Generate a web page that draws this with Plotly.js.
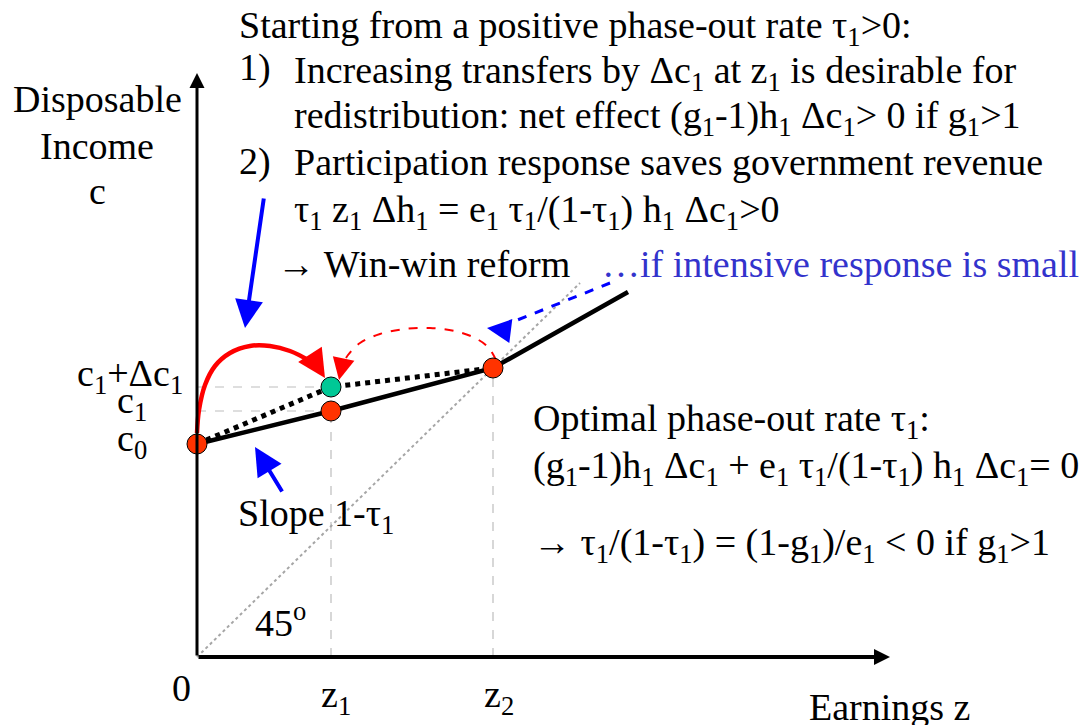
<!DOCTYPE html>
<html><head><meta charset="utf-8">
<script src="https://cdn.plot.ly/plotly-3.0.1.min.js"></script>
</head><body style="margin:0"><div id="chart" style="width:1086px;height:725px"></div>
<script>
// ---- data (earnings z, disposable income c) ----
const budgetZ = [0, 1.34, 2.96, 4.31];
const budgetC = [2.13, 2.46, 2.89, 3.65];
const reformZ = [0, 1.34, 2.96];
const reformC = [2.13, 2.70, 2.89];
const redPointZ = [0, 1.34, 2.96];
const redPointC = [2.13, 2.46, 2.89];
const greenPointZ = [1.34];
const greenPointC = [2.70];
const diagZ = [0, 3.83];
const diagC = [0, 3.74];
const axisEndZ = 6.93;
const axisEndC = 5.84;
const redArcZ = [0, 0.02, 0.08, 0.18, 0.33, 0.53, 0.73, 0.93, 1.11, 1.21];
const redArcC = [2.24, 2.47, 2.72, 2.91, 3.04, 3.11, 3.11, 3.06, 2.97, 2.90];
const redArcTip = [1.28, 2.79];
const dashArcZ = [2.99, 2.91, 2.78, 2.58, 2.33, 2.08, 1.83, 1.63, 1.51, 1.45];
const dashArcC = [2.97, 3.10, 3.19, 3.26, 3.29, 3.28, 3.23, 3.14, 3.02, 2.91];
const dashArcTip = [1.42, 2.77];
const blueArrowFromZ = [0.67, 0.86];
const blueArrowFromC = [4.60, 1.64];
const blueArrowToZ = [0.48, 0.58];
const blueArrowToC = [3.29, 2.10];
const blueDashZ = [4.13, 2.98];
const blueDashC = [3.74, 3.28];
const blueDashTip = [2.90, 3.29];
const xTickText = ['0', 'z<sub>1</sub>', 'z<sub>2</sub>'];
const yTickText = ['c<sub>0</sub>', 'c<sub>1</sub>', 'c<sub>1</sub>+Δc<sub>1</sub>'];

const W = 1086, H = 725;
const P = (px, py) => ({x: px / W, y: 1 - py / H});

// guide lines (dashed gray) built from the point arrays
const guideZ = [0, greenPointZ[0], null, 0, redPointZ[1], null, redPointZ[1], redPointZ[1], null, redPointZ[2], redPointZ[2]];
const guideC = [greenPointC[0], greenPointC[0], null, redPointC[1], redPointC[1], null, 0, redPointC[1], null, 0, redPointC[2]];

const traces = [
  {x: guideZ, y: guideC, mode: 'lines', line: {color: '#bdbdbd', width: 1.2, dash: 'dash'}, hoverinfo: 'skip'},
  {x: diagZ, y: diagC, mode: 'lines', line: {color: '#a6a6a6', width: 2, dash: 'dot'}, hoverinfo: 'skip'},
  {x: budgetZ, y: budgetC, mode: 'lines', line: {color: '#000', width: 4.5}, hoverinfo: 'skip'},
  {x: reformZ, y: reformC, mode: 'lines', line: {color: '#000', width: 5, dash: 'dot'}, hoverinfo: 'skip'},
  {x: redArcZ, y: redArcC, mode: 'lines', line: {color: '#ff0000', width: 4.5, shape: 'spline'}, hoverinfo: 'skip'},
  {x: dashArcZ, y: dashArcC, mode: 'lines', line: {color: '#ff0000', width: 2, dash: 'dash', shape: 'spline'}, hoverinfo: 'skip'},
  {x: blueDashZ, y: blueDashC, mode: 'lines', line: {color: '#0000ff', width: 3, dash: 'dash'}, hoverinfo: 'skip'},
  {x: redPointZ, y: redPointC, mode: 'markers', marker: {size: 20, color: '#ff3300', line: {color: '#000', width: 1}}, hoverinfo: 'skip'},
  {x: greenPointZ, y: greenPointC, mode: 'markers', marker: {size: 20, color: '#00c896', line: {color: '#000', width: 1}}, hoverinfo: 'skip'}
];

function arrow(x0, y0, x1, y1, color, width, size) {
  return {x: x1, y: y1, ax: x0, ay: y0, xref: 'x', yref: 'y', axref: 'x', ayref: 'y',
    text: '', showarrow: true, arrowhead: 2, arrowsize: size, arrowwidth: width, arrowcolor: color};
}
function T(text, px, py, anchor, color) {
  const p = P(px, py);
  const f = {family: 'Liberation Serif', size: 38, color: color || '#000000'};
  return {x: p.x, y: p.y, xref: 'paper', yref: 'paper', text: text, showarrow: false,
    xanchor: anchor, yanchor: 'middle', font: f};
}

const ann = [
  arrow(0, 0, 0, axisEndC, '#000', 3, 1),
  arrow(0, 0, axisEndZ, 0, '#000', 4, 0.8),
  arrow(redArcZ[9], redArcC[9], redArcTip[0], redArcTip[1], '#ff0000', 4, 1.4),
  arrow(dashArcZ[9], dashArcC[9], dashArcTip[0], dashArcTip[1], '#ff0000', 2, 2.2),
  arrow(blueArrowFromZ[0], blueArrowFromC[0], blueArrowToZ[0], blueArrowToC[0], '#0000ff', 4, 1.4),
  arrow(blueArrowFromZ[1], blueArrowFromC[1], blueArrowToZ[1], blueArrowToC[1], '#0000ff', 4, 1.4),
  arrow(blueDashZ[1], blueDashC[1], blueDashTip[0], blueDashTip[1], '#0000ff', 3, 1.6),
  // axis titles
  T('Disposable', 97, 99, 'center'),
  T('Income', 97, 146, 'center'),
  T('c', 97, 191, 'center'),
  T('Earnings z', 807, 707, 'left'),
  // tick labels
  T(xTickText[0], 181, 688, 'center'),
  T(xTickText[1], 319, 697, 'left'),
  T(xTickText[2], 482, 697, 'left'),
  T(yTickText[2], 185, 376, 'right'),
  T(yTickText[1], 115, 403, 'left'),
  T(yTickText[0], 115, 441, 'left'),
  // explanatory text
  T('Starting from a positive phase-out rate τ<sub>1</sub>&gt;0:', 237, 28, 'left'),
  T('1)', 237, 68, 'left'),
  T('Increasing transfers by Δc<sub>1</sub> at z<sub>1</sub> is desirable for', 292, 73, 'left'),
  T('redistribution: net effect (g<sub>1</sub>-1)h<sub>1</sub> Δc<sub>1</sub>&gt; 0 if g<sub>1</sub>&gt;1', 292, 118, 'left'),
  T('2)', 237, 162, 'left'),
  T('Participation response saves government revenue', 292, 162, 'left'),
  T('τ<sub>1</sub> z<sub>1</sub> Δh<sub>1</sub> = e<sub>1</sub> τ<sub>1</sub>/(1-τ<sub>1</sub>) h<sub>1</sub> Δc<sub>1</sub>&gt;0', 292, 212, 'left'),
  T('→ Win-win reform', 275, 264, 'left'),
  T('…if intensive response is small', 600, 264, 'left', '#3333cc'),
  T('Slope 1-τ<sub>1</sub>', 236, 516, 'left'),
  T('Optimal phase-out rate τ<sub>1</sub>:', 531, 421, 'left'),
  T('(g<sub>1</sub>-1)h<sub>1</sub> Δc<sub>1</sub> + e<sub>1</sub> τ<sub>1</sub>/(1-τ<sub>1</sub>) h<sub>1</sub> Δc<sub>1</sub>= 0', 531, 468, 'left'),
  T('→ τ<sub>1</sub>/(1-τ<sub>1</sub>) = (1-g<sub>1</sub>)/e<sub>1</sub> &lt; 0 if g<sub>1</sub>&gt;1', 531, 545, 'left'),
  T('45<sup>o</sup>', 253, 620, 'left')
];

const layout = {
  width: W, height: H,
  margin: {l: 0, r: 0, t: 0, b: 0},
  paper_bgcolor: '#fff', plot_bgcolor: '#fff',
  showlegend: false,
  xaxis: {range: [-1.97, 8.89], visible: false, fixedrange: true},
  yaxis: {range: [-0.68, 6.57], visible: false, fixedrange: true},
  annotations: ann
};
Plotly.newPlot('chart', traces, layout, {displayModeBar: false});
</script></body></html>
